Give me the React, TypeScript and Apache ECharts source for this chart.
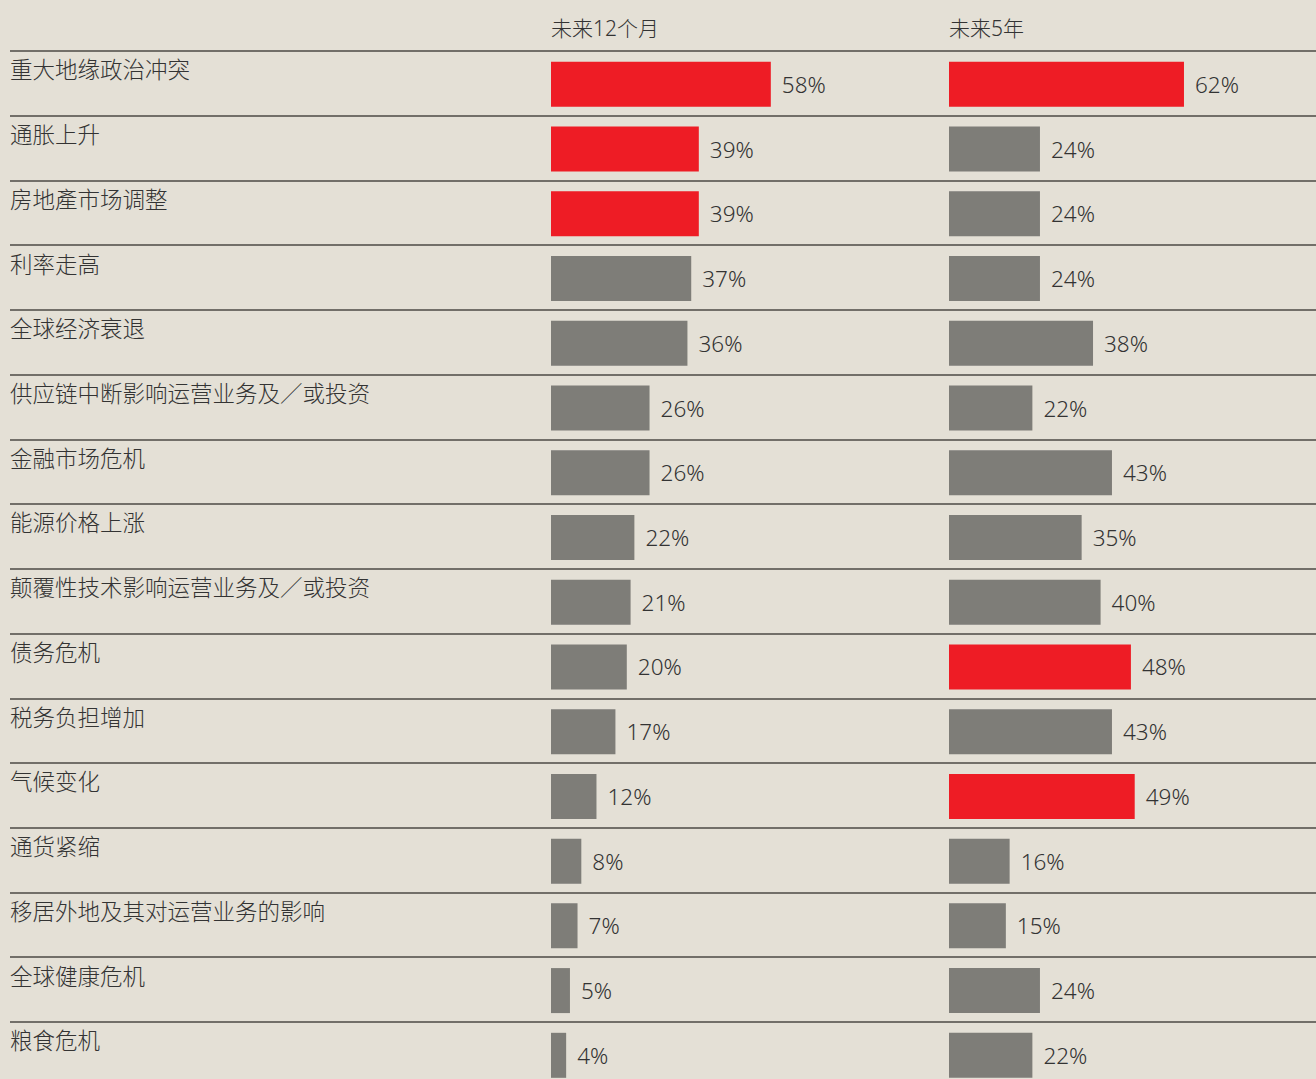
import React, { useEffect, useRef } from "react";
import * as echarts from "echarts";

const categories = [
  "重大地缘政治冲突",
  "通胀上升",
  "房地產市场调整",
  "利率走高",
  "全球经济衰退",
  "供应链中断影响运营业务及／或投资",
  "金融市场危机",
  "能源价格上涨",
  "颠覆性技术影响运营业务及／或投资",
  "债务危机",
  "税务负担增加",
  "气候变化",
  "通货紧缩",
  "移居外地及其对运营业务的影响",
  "全球健康危机",
  "粮食危机",
];
const next12Months = [58, 39, 39, 37, 36, 26, 26, 22, 21, 20, 17, 12, 8, 7, 5, 4];
const next5Years = [62, 24, 24, 24, 38, 22, 43, 35, 40, 48, 43, 49, 16, 15, 24, 22];
const columnTitles = ["未来12个月", "未来5年"];

const RED = "#ee1c25";
const GREY = "#7e7d78";
const BG = "#e4e0d6";
const TEXT = "#333333";
const FONT = "'Noto Sans', 'Noto Sans CJK SC', sans-serif";
const WEIGHT = 300;

function colored(values: number[]) {
  const top3 = [...values].sort((a, b) => b - a)[2];
  return values.map((v) => ({
    value: v,
    itemStyle: { color: v >= top3 ? RED : GREY },
  }));
}

export default function App() {
  const ref = useRef<HTMLDivElement>(null);
  useEffect(() => {
    document.body.style.margin = "0";
    const chart = echarts.init(ref.current!, null, { renderer: "svg" });
    const rowH = 64.73;
    const gridH = rowH * categories.length;
    const barGrid = (left: number) => ({
      left,
      top: 52,
      width: 379,
      height: gridH,
      containLabel: false,
    });
    const catAxis = (gridIndex: number) => ({
      type: "category",
      gridIndex,
      data: categories,
      inverse: true,
      show: false,
    });
    const valAxis = (gridIndex: number) => ({
      type: "value",
      gridIndex,
      min: 0,
      max: 100,
      show: false,
    });
    const barSeries = (values: number[], idx: number) => ({
      type: "bar",
      xAxisIndex: idx,
      yAxisIndex: idx,
      data: colored(values),
      barWidth: 45,
      label: {
        show: true,
        position: "right",
        distance: 11,
        formatter: "{c}%",
        color: TEXT,
        fontSize: 22.5,
        fontWeight: WEIGHT,
        fontFamily: FONT,
      },
    });
    chart.setOption({
      animation: false,
      backgroundColor: BG,
      title: columnTitles.map((t, i) => ({
        text: t,
        left: i === 0 ? 551 : 949,
        top: 17,
        padding: 0,
        textStyle: {
          fontSize: 21,
          lineHeight: 22,
          fontWeight: WEIGHT,
          color: TEXT,
          fontFamily: FONT,
        },
      })),
      grid: [
        barGrid(551),
        barGrid(949),
        { left: 10, width: 1330, top: 51, height: gridH },
      ],
      xAxis: [valAxis(0), valAxis(1), valAxis(2)],
      yAxis: [
        catAxis(0),
        catAxis(1),
        {
          type: "category",
          gridIndex: 2,
          data: categories,
          inverse: true,
          axisLine: { show: false },
          axisTick: { show: false },
          splitLine: {
            show: true,
            lineStyle: { color: "#4d4a45", width: 1.5 },
          },
          axisLabel: {
            inside: true,
            margin: 0,
            align: "left",
            verticalAlign: "bottom",
            fontSize: 22.5,
            fontWeight: WEIGHT,
            lineHeight: 27,
            color: TEXT,
            fontFamily: FONT,
          },
        },
      ],
      series: [barSeries(next12Months, 0), barSeries(next5Years, 1)],
    });
    return () => chart.dispose();
  }, []);
  return (
    <div
      style={{
        position: "absolute",
        left: 0,
        top: 0,
        width: 1316,
        height: 1079,
        overflow: "hidden",
      }}
    >
      <div ref={ref} style={{ width: 1360, height: 1110 }} />
    </div>
  );
}
